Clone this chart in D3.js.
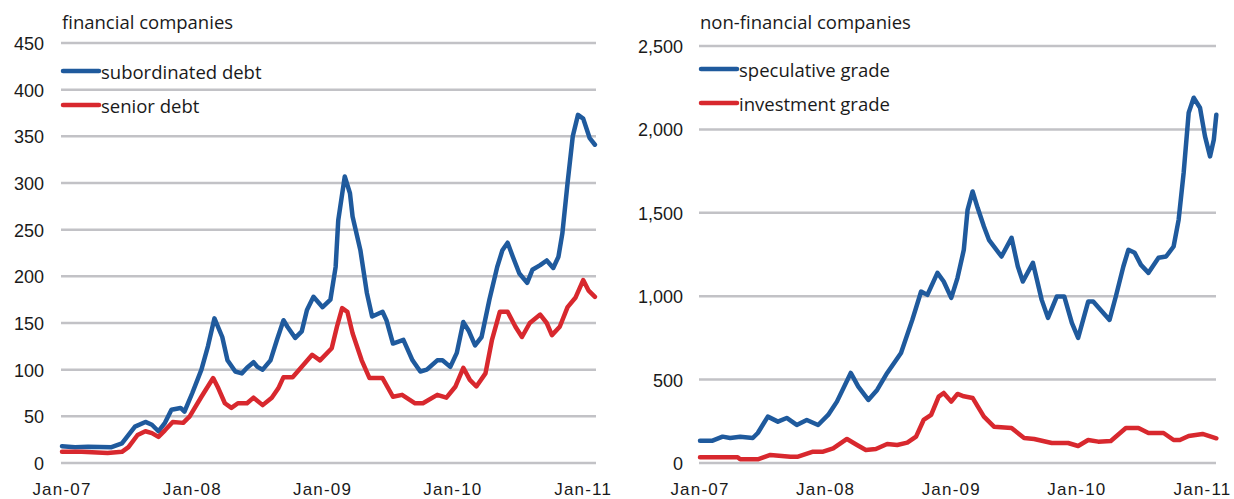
<!DOCTYPE html>
<html lang="en">
<head>
<meta charset="UTF-8"/>
<title>Credit spreads</title>
<script src="https://d3js.org/d3.v7.min.js"></script>
<style>
	body { margin: 0; background: #fff; }
	.tick-y { font-family: "Liberation Sans", sans-serif; font-size: 18px; fill: #1a1a1a; }
	.tick-x { font-family: "Liberation Sans Narrow", "Liberation Sans", sans-serif; font-size: 17px; fill: #1a1a1a; letter-spacing: 1.2px; }
	.label { font-family: "Open Sans", sans-serif; font-size: 18.5px; fill: #1a1a1a; }
</style>
</head>
<body>
<script>
	// x values are decimal years (2007.00 = Jan-07)
	var xTickValues = [2007, 2008, 2009, 2010, 2011];
	var xTickLabels = ["Jan-07", "Jan-08", "Jan-09", "Jan-10", "Jan-11"];

	// left panel: financial companies
	var finTicks = [0, 50, 100, 150, 200, 250, 300, 350, 400, 450];
	var finTickLabels = ["0", "50", "100", "150", "200", "250", "300", "350", "400", "450"];

	var subDates = [2007.00, 2007.10, 2007.20, 2007.38, 2007.46, 2007.56, 2007.64, 2007.69, 2007.74, 2007.79,
		2007.84, 2007.91, 2007.94, 2008.00, 2008.07, 2008.12, 2008.17, 2008.23, 2008.27, 2008.33,
		2008.38, 2008.42, 2008.47, 2008.50, 2008.54, 2008.60, 2008.65, 2008.70, 2008.73, 2008.79,
		2008.84, 2008.88, 2008.93, 2009.00, 2009.06, 2009.10, 2009.12, 2009.17, 2009.21, 2009.23,
		2009.29, 2009.34, 2009.38, 2009.46, 2009.49, 2009.54, 2009.62, 2009.69, 2009.75, 2009.80,
		2009.88, 2009.92, 2009.98, 2010.03, 2010.08, 2010.12, 2010.17, 2010.22, 2010.28, 2010.34,
		2010.38, 2010.42, 2010.46, 2010.51, 2010.57, 2010.61, 2010.67, 2010.72, 2010.77, 2010.81,
		2010.84, 2010.88, 2010.92, 2010.96, 2011.00, 2011.05, 2011.09];
	var subDebt = [18, 17, 17.5, 17, 21, 39, 44, 41, 34, 43,
		57, 59, 55, 75, 100, 125, 155, 135, 110, 98,
		96, 102, 108, 103, 100, 110, 132, 153, 146, 134,
		141, 164, 178, 167, 175, 210, 260, 307, 289, 264,
		228, 182, 157, 162, 153, 128, 132, 110, 98, 100,
		110, 110, 103, 118, 151, 142, 126, 135, 175, 210,
		228, 236, 221, 203, 193, 207, 212, 217, 209, 221,
		246, 300, 350, 373, 369, 348, 341];

	var senDates = [2007.00, 2007.15, 2007.35, 2007.46, 2007.51, 2007.58, 2007.64, 2007.69, 2007.74, 2007.79,
		2007.85, 2007.93, 2007.98, 2008.07, 2008.16, 2008.20, 2008.25, 2008.30, 2008.35, 2008.42,
		2008.47, 2008.54, 2008.61, 2008.66, 2008.70, 2008.77, 2008.84, 2008.92, 2008.98, 2009.07,
		2009.11, 2009.15, 2009.19, 2009.23, 2009.30, 2009.36, 2009.46, 2009.54, 2009.61, 2009.71,
		2009.77, 2009.88, 2009.95, 2010.02, 2010.08, 2010.13, 2010.18, 2010.25, 2010.30, 2010.36,
		2010.42, 2010.48, 2010.53, 2010.59, 2010.67, 2010.72, 2010.76, 2010.82, 2010.88, 2010.94,
		2011.00, 2011.04, 2011.09];
	var seniorDebt = [12, 12, 10.7, 12, 17, 30, 34, 32, 28, 35,
		44, 43, 50, 71, 91, 80, 64, 59, 64, 64,
		70, 62, 70, 80, 92, 92, 103, 116, 110, 123,
		146, 166, 162, 139, 110, 91, 91, 71, 73, 64,
		64, 73, 70, 82, 102, 89, 82, 96, 132, 162,
		162, 146, 135, 150, 159, 150, 137, 146, 167, 177,
		196, 185, 178];

	// right panel: non-financial companies
	var nonFinTicks = [0, 500, 1000, 1500, 2000, 2500];
	var nonFinTickLabels = ["0", "500", "1,000", "1,500", "2,000", "2,500"];

	var specDates = [2007.00, 2007.10, 2007.18, 2007.24, 2007.32, 2007.42, 2007.46, 2007.54, 2007.62, 2007.69,
		2007.77, 2007.85, 2007.94, 2008.02, 2008.09, 2008.20, 2008.26, 2008.34, 2008.41, 2008.49,
		2008.60, 2008.69, 2008.76, 2008.81, 2008.89, 2008.94, 2009.00, 2009.05, 2009.10, 2009.13,
		2009.17, 2009.21, 2009.26, 2009.30, 2009.40, 2009.48, 2009.53, 2009.57, 2009.65, 2009.72,
		2009.77, 2009.84, 2009.90, 2009.96, 2010.01, 2010.09, 2010.13, 2010.26, 2010.31, 2010.37,
		2010.41, 2010.46, 2010.51, 2010.57, 2010.65, 2010.71, 2010.77, 2010.81, 2010.85, 2010.89,
		2010.93, 2010.98, 2011.02, 2011.06, 2011.09, 2011.11];
	var specGrade = [134, 134, 158, 150, 158, 150, 180, 278, 248, 270,
		228, 258, 228, 288, 368, 540, 458, 378, 438, 540,
		660, 858, 1028, 1008, 1140, 1088, 990, 1110, 1278, 1518,
		1628, 1530, 1418, 1338, 1238, 1350, 1178, 1088, 1200, 978,
		870, 998, 998, 840, 750, 968, 968, 858, 998, 1178,
		1278, 1260, 1188, 1140, 1230, 1238, 1298, 1458, 1740, 2100,
		2190, 2130, 1958, 1838, 1938, 2088];

	var invDates = [2007.00, 2007.30, 2007.32, 2007.46, 2007.56, 2007.72, 2007.78, 2007.90, 2007.98, 2008.06,
		2008.17, 2008.25, 2008.32, 2008.40, 2008.49, 2008.57, 2008.65, 2008.72, 2008.78, 2008.84,
		2008.90, 2008.94, 2009.00, 2009.05, 2009.10, 2009.17, 2009.26, 2009.34, 2009.48, 2009.58,
		2009.66, 2009.80, 2009.93, 2010.01, 2010.09, 2010.17, 2010.27, 2010.39, 2010.49, 2010.57,
		2010.69, 2010.77, 2010.82, 2010.89, 2011.00, 2011.11];
	var invGrade = [34, 34, 22, 22, 48, 38, 38, 68, 68, 88,
		144, 108, 78, 84, 114, 108, 122, 158, 258, 288,
		398, 420, 368, 414, 400, 390, 278, 218, 210, 150,
		144, 120, 120, 102, 138, 128, 132, 210, 210, 180,
		180, 138, 138, 162, 174, 148];

	var blue = "#1f5a9d";
	var red = "#d8282e";
	var w = 1234;
	var h = 499;

	var svg = d3.select("body")
				.append("svg")
				.attr("width", w)
				.attr("height", h);

	function drawPanel(p) {
		var xScale = d3.scaleLinear()
						.domain([2007, 2011])
						.range([p.x0, p.x1]);
		var yScale = d3.scaleLinear()
						.domain([0, p.yMax])
						.range([463, p.yTop]);

		var g = svg.append("g");

		//Gridlines
		g.selectAll("line.grid")
			.data(p.ticks)
			.enter()
			.append("line")
			.attr("x1", p.gridStart)
			.attr("x2", p.gridEnd)
			.attr("y1", function(d) { return yScale(d); })
			.attr("y2", function(d) { return yScale(d); })
			.attr("stroke", "#c2c2c6")
			.attr("stroke-width", 2.5);

		//Y labels
		g.selectAll("text.tick-y")
			.data(p.ticks)
			.enter()
			.append("text")
			.attr("class", "tick-y")
			.attr("text-anchor", "end")
			.attr("x", p.labelX)
			.attr("y", function(d) { return yScale(d) + 7; })
			.text(function(d, i) { return p.tickLabels[i]; });

		//X labels
		g.selectAll("text.tick-x")
			.data(xTickValues)
			.enter()
			.append("text")
			.attr("class", "tick-x")
			.attr("text-anchor", "middle")
			.attr("x", function(d) { return xScale(d); })
			.attr("y", 495)
			.text(function(d, i) { return xTickLabels[i]; });

		var line = d3.line()
					.x(function(d) { return xScale(d[0]); })
					.y(function(d) { return yScale(d[1]); });

		p.series.forEach(function(s) {
			g.append("path")
				.datum(d3.zip(s.dates, s.values))
				.attr("d", line)
				.attr("fill", "none")
				.attr("stroke", s.color)
				.attr("stroke-width", 4.5)
				.attr("stroke-linejoin", "round")
				.attr("stroke-linecap", "round");
		});

		//Title
		g.append("text")
			.attr("class", "label")
			.attr("x", p.gridStart + 1)
			.attr("y", 29)
			.text(p.title);

		//Legend
		p.series.forEach(function(s, i) {
			var ly = p.legendY + i * 34;
			g.append("line")
				.attr("x1", p.gridStart + 2)
				.attr("x2", p.gridStart + 38)
				.attr("y1", ly)
				.attr("y2", ly)
				.attr("stroke", s.color)
				.attr("stroke-width", 4.5)
				.attr("stroke-linecap", "round");
			g.append("text")
				.attr("class", "label")
				.attr("x", p.gridStart + 40)
				.attr("y", ly + 8)
				.text(s.name);
		});
	}

	drawPanel({
		title: "financial companies",
		x0: 62, x1: 583.2, gridStart: 61, gridEnd: 596,
		yMax: 450, yTop: 43, labelX: 44,
		ticks: finTicks, tickLabels: finTickLabels,
		legendY: 71,
		series: [
			{ name: "subordinated debt", dates: subDates, values: subDebt, color: blue },
			{ name: "senior debt", dates: senDates, values: seniorDebt, color: red }
		]
	});

	drawPanel({
		title: "non-financial companies",
		x0: 700, x1: 1202.5, gridStart: 699, gridEnd: 1216,
		yMax: 2500, yTop: 46, labelX: 683,
		ticks: nonFinTicks, tickLabels: nonFinTickLabels,
		legendY: 69,
		series: [
			{ name: "speculative grade", dates: specDates, values: specGrade, color: blue },
			{ name: "investment grade", dates: invDates, values: invGrade, color: red }
		]
	});
</script>
</body>
</html>
